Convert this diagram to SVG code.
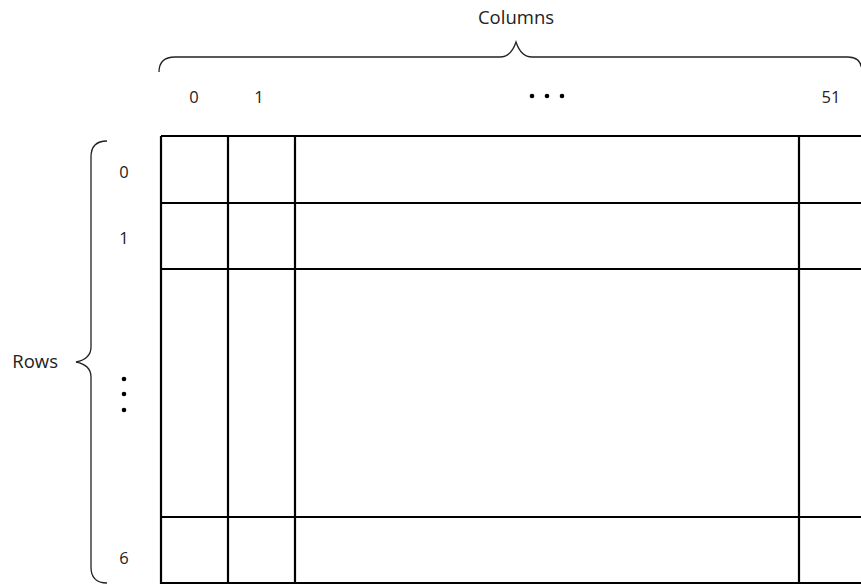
<svg xmlns="http://www.w3.org/2000/svg" width="861" height="585" viewBox="0 0 861 585">
<style>
.t{font-family:"Open Sans","Noto Sans",sans-serif;font-size:16.5px;fill:#222}
.L{font-family:"Open Sans","Noto Sans",sans-serif;font-size:18.5px;fill:#222}
.g{stroke:#000;stroke-width:2.2;fill:none}
.b{stroke:#222;stroke-width:1.3;fill:none}
</style>
<rect width="861" height="585" fill="#fff"/>
<g id="grid" class="g">
<path d="M161,136 H870 M161,203 H870 M161,269 H870 M161,517 H870 M161,583 H870"/>
<path d="M161,136 V584 M228,136 V584 M295,136 V584 M799,136 V584"/>
</g>
<g id="col-brace">
<path class="b" d="M159,72 Q159,57 175,57 L500,57 Q511,57 516,42 Q521,57 532,57 L848,57 Q862,57 862,72"/>
<text class="L" x="516" y="24" text-anchor="middle">Columns</text>
</g>
<g id="row-brace">
<path class="b" d="M107,141 Q91,141 91,157 L91,347 Q91,359 76,362 Q91,365 91,377 L91,567 Q91,583 107,583"/>
<text class="L" x="58" y="368" text-anchor="end">Rows</text>
</g>
<g id="col-labels" class="t" text-anchor="middle">
<text x="194" y="103">0</text>
<text x="259" y="103">1</text>
<text x="831" y="103">51</text>
</g>
<g id="col-dots" fill="#000">
<circle cx="532" cy="96" r="2.3"/><circle cx="547" cy="96" r="2.3"/><circle cx="562" cy="96" r="2.3"/>
</g>
<g id="row-labels" class="t" text-anchor="middle">
<text x="124" y="178">0</text>
<text x="124" y="244">1</text>
<text x="124" y="564">6</text>
</g>
<g id="row-dots" fill="#000">
<circle cx="124" cy="379" r="2.3"/><circle cx="124" cy="394" r="2.3"/><circle cx="124" cy="410" r="2.3"/>
</g>
</svg>
